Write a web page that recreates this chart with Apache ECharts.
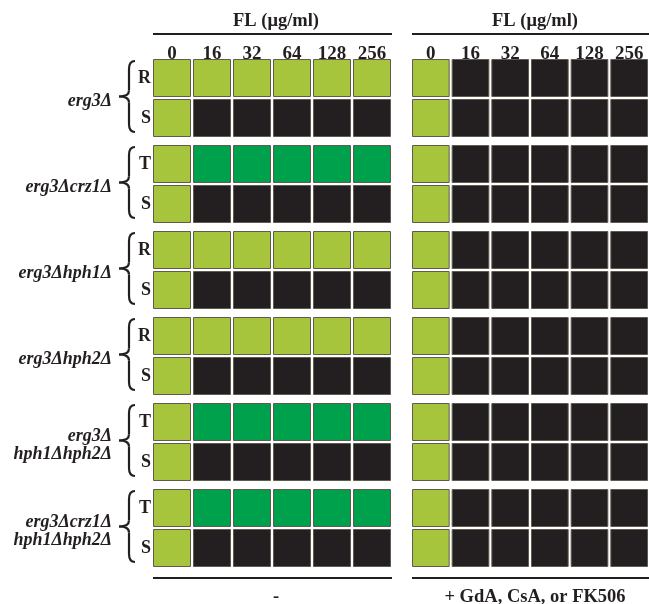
<!DOCTYPE html>
<html>
<head>
<meta charset="utf-8">
<script src="https://cdn.jsdelivr.net/npm/echarts@6.0.0/dist/echarts.min.js"></script>
<style>
  html, body { margin: 0; padding: 0; background: #fff; }
  #chart { width: 649px; height: 604px; }
</style>
</head>
<body>
<div id="chart"></div>
<script>
// FL concentrations (µg/ml)
const concentrations = ['0', '16', '32', '64', '128', '256']
const strains = ['erg3Δ', 'erg3Δcrz1Δ', 'erg3Δhph1Δ', 'erg3Δhph2Δ', 'erg3Δ\nhph1Δhph2Δ', 'erg3Δcrz1Δ\nhph1Δhph2Δ']
const rowLabels = [['R', 'S'], ['T', 'S'], ['R', 'S'], ['R', 'S'], ['T', 'S'], ['T', 'S']]
const panelLabels = ['-', '+ GdA, CsA, or FK506']

// growth: 0 = none, 1 = growth, 2 = trailing growth
const noDrug = [
  [[1, 1, 1, 1, 1, 1], [1, 0, 0, 0, 0, 0]],
  [[1, 2, 2, 2, 2, 2], [1, 0, 0, 0, 0, 0]],
  [[1, 1, 1, 1, 1, 1], [1, 0, 0, 0, 0, 0]],
  [[1, 1, 1, 1, 1, 1], [1, 0, 0, 0, 0, 0]],
  [[1, 2, 2, 2, 2, 2], [1, 0, 0, 0, 0, 0]],
  [[1, 2, 2, 2, 2, 2], [1, 0, 0, 0, 0, 0]]
]
const withInhibitor = [
  [[1, 0, 0, 0, 0, 0], [1, 0, 0, 0, 0, 0]],
  [[1, 0, 0, 0, 0, 0], [1, 0, 0, 0, 0, 0]],
  [[1, 0, 0, 0, 0, 0], [1, 0, 0, 0, 0, 0]],
  [[1, 0, 0, 0, 0, 0], [1, 0, 0, 0, 0, 0]],
  [[1, 0, 0, 0, 0, 0], [1, 0, 0, 0, 0, 0]],
  [[1, 0, 0, 0, 0, 0], [1, 0, 0, 0, 0, 0]]
]

const colors = ['#231f20', '#a6c53d', '#00a14c']
const serif = '"Liberation Serif", "Times New Roman", serif'

const panels = [noDrug, withInhibitor]
const panelLeft = [152, 411]
const panelWidth = 240
const groupTop = 58
const groupPitch = 86
const groupHeight = 80

const grids = []
const xAxes = []
const yAxes = []
const series = []

panels.forEach((panel, p) => {
  panel.forEach((rows, g) => {
    const idx = grids.length
    grids.push({ left: panelLeft[p], top: groupTop + g * groupPitch, width: panelWidth, height: groupHeight })
    xAxes.push({
      type: 'category', gridIndex: idx, data: concentrations, position: 'top',
      axisLine: { show: false }, axisTick: { show: false }, splitLine: { show: false },
      axisLabel: { show: g === 0, margin: -6, color: '#231f20', fontFamily: serif, fontWeight: 'bold', fontSize: 19 }
    })
    yAxes.push({
      type: 'category', gridIndex: idx, data: rowLabels[g], inverse: true,
      axisLine: { show: false }, axisTick: { show: false }, splitLine: { show: false },
      axisLabel: { show: p === 0, margin: 1, color: '#231f20', fontFamily: serif, fontWeight: 'bold', fontSize: 18 }
    })
    const data = []
    rows.forEach((vals, r) => vals.forEach((v, c) => data.push([c, r, v])))
    series.push({
      type: 'custom', xAxisIndex: idx, yAxisIndex: idx, data,
      renderItem: (params, api) => {
        const c = api.coord([api.value(0), api.value(1)])
        const s = api.size([1, 1])
        return {
          type: 'rect',
          shape: { x: c[0] - s[0] / 2 + 1.5, y: c[1] - s[1] / 2 + 1.5, width: s[0] - 3, height: s[1] - 3 },
          style: { fill: colors[api.value(2)], stroke: '#5e5c50', lineWidth: 1 }
        }
      }
    })
  })
})

// curly brace built from lines and curves
const brace = (x, y, h) => {
  const m = h / 2
  const st = { stroke: '#231f20', lineWidth: 2.2, fill: null }
  return {
    type: 'group', x, y,
    children: [
      { type: 'bezierCurve', shape: { x1: 15, y1: 0, cpx1: 9, cpy1: 0, x2: 9, y2: 8 }, style: st },
      { type: 'line', shape: { x1: 9, y1: 8, x2: 9, y2: m - 6 }, style: st },
      { type: 'bezierCurve', shape: { x1: 9, y1: m - 6, cpx1: 9, cpy1: m, x2: -1, y2: m }, style: st },
      { type: 'bezierCurve', shape: { x1: -1, y1: m, cpx1: 9, cpy1: m, x2: 9, y2: m + 6 }, style: st },
      { type: 'line', shape: { x1: 9, y1: m + 6, x2: 9, y2: h - 8 }, style: st },
      { type: 'bezierCurve', shape: { x1: 9, y1: h - 8, cpx1: 9, cpy1: h, x2: 15, y2: h }, style: st }
    ]
  }
}

const graphic = []
strains.forEach((name, g) => {
  const top = groupTop + g * groupPitch
  graphic.push({
    type: 'text',
    style: {
      text: name, x: 112, y: top + groupHeight / 2 + 3, align: 'right', verticalAlign: 'middle',
      font: 'italic bold 18px ' + serif, fill: '#231f20', lineHeight: 18
    }
  })
  graphic.push(brace(120, top + 3, groupHeight - 9))
})
panelLeft.forEach((left, p) => {
  const right = Math.min(left + panelWidth, 649)
  const mid = left + panelWidth / 2 + 4
  graphic.push({
    type: 'text',
    style: { text: 'FL (μg/ml)', x: mid, y: 21, align: 'center', verticalAlign: 'middle', font: 'bold 18.5px ' + serif, fill: '#231f20' }
  })
  graphic.push({ type: 'line', shape: { x1: left + 1, y1: 34, x2: right, y2: 34 }, style: { stroke: '#231f20', lineWidth: 2 } })
  graphic.push({ type: 'line', shape: { x1: left + 1, y1: 578, x2: right, y2: 578 }, style: { stroke: '#231f20', lineWidth: 2 } })
  graphic.push({
    type: 'text',
    style: { text: panelLabels[p], x: mid, y: 597, align: 'center', verticalAlign: 'middle', font: 'bold 18.5px ' + serif, fill: '#231f20' }
  })
})

const chart = echarts.init(document.getElementById('chart'))
chart.setOption({
  backgroundColor: '#fff',
  animation: false,
  grid: grids,
  xAxis: xAxes,
  yAxis: yAxes,
  series,
  graphic
})
</script>
</body>
</html>
